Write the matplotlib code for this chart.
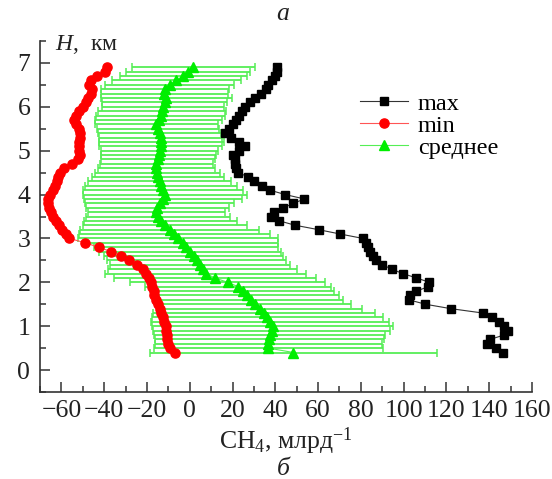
import matplotlib
matplotlib.use("Agg")
import matplotlib.pyplot as plt
from matplotlib.ticker import MultipleLocator

plt.rcParams["font.family"] = ["Liberation Serif", "DejaVu Serif"]
plt.rcParams["mathtext.fontset"] = "custom"
plt.rcParams["mathtext.rm"] = "Liberation Serif"
plt.rcParams["mathtext.it"] = "Liberation Serif:italic"

# altitude levels, km
heights = [
    0.4, 0.5, 0.6, 0.7, 0.8, 0.9, 1.0, 1.1, 1.2, 1.3, 1.4, 1.5, 1.6, 1.7,
    1.8, 1.9, 2.0, 2.1, 2.2, 2.3, 2.4, 2.5, 2.6, 2.7, 2.8, 2.9, 3.0, 3.1,
    3.2, 3.3, 3.4, 3.5, 3.6, 3.7, 3.8, 3.9, 4.0, 4.1, 4.2, 4.3, 4.4, 4.5,
    4.6, 4.7, 4.8, 4.9, 5.0, 5.1, 5.2, 5.3, 5.4, 5.5, 5.6, 5.7, 5.8, 5.9,
    6.0, 6.1, 6.2, 6.3, 6.4, 6.5, 6.6, 6.7, 6.8, 6.9,
]

ch4_max = [
    146.5, 143.0, 139.0, 140.5, 147.0, 148.8, 147.0, 144.5, 141.5, 137.0,
    122.0, 110.2, 102.5, 103.0, 106.0, 111.5, 112.0, 106.0, 99.5, 94.5,
    90.0, 87.0, 85.5, 84.3, 83.3, 82.2, 81.0, 70.4, 60.2, 49.3,
    41.9, 37.8, 39.4, 43.8, 48.5, 53.6, 44.6, 37.5, 33.6, 30.0,
    27.4, 22.7, 21.5, 21.1, 21.0, 20.3, 23.1, 26.0, 23.1, 19.1,
    16.4, 18.5, 20.0, 21.5, 23.0, 24.5, 26.0, 28.0, 30.5, 33.5,
    35.5, 36.8, 38.3, 39.8, 41.0, 40.6,
]

ch4_min = [
    -7.1, -9.1, -10.2, -10.7, -10.7, -11.0, -11.3, -11.8, -12.6, -13.3,
    -14.1, -14.9, -15.7, -16.5, -16.9, -17.6, -18.0, -19.1, -20.4, -21.9,
    -24.7, -28.5, -32.1, -36.8, -42.6, -48.8, -56.3, -58.0, -59.8, -61.2,
    -62.6, -63.8, -64.8, -65.6, -66.1, -66.4, -65.5, -64.0, -62.8, -62.0,
    -61.4, -60.5, -58.9, -55.2, -52.4, -51.1, -51.6, -52.0, -51.6, -51.1,
    -51.1, -51.6, -53.1, -53.9, -53.1, -51.6, -50.0, -48.4, -47.7, -46.1,
    -45.8, -46.9, -46.1, -43.3, -39.8, -38.6,
]

ch4_mean = [
    48.5, 36.8, 36.7, 37.2, 37.5, 38.3, 38.8, 37.5, 36.3, 34.7,
    32.8, 30.5, 28.5, 26.6, 24.7, 22.7, 17.7, 11.7, 7.5, 6.0,
    4.7, 3.2, 1.8, 0.1, -1.6, -3.3, -5.5, -7.3, -9.4, -11.7,
    -13.6, -14.8, -15.6, -15.1, -14.1, -12.5, -11.7, -12.5, -13.3, -14.1,
    -14.8, -15.1, -15.6, -15.6, -14.8, -14.5, -14.1, -13.6, -13.3, -13.6,
    -14.1, -14.8, -15.6, -14.5, -13.6, -13.0, -12.5, -11.7, -10.9, -12.0,
    -11.7, -9.4, -6.2, -3.1, -0.8, 1.6,
]

ch4_sd = [
    67.0, 53.4, 53.0, 53.5, 54.0, 55.5, 56.3, 55.7, 54.0, 52.1,
    47.7, 44.8, 43.0, 43.0, 42.8, 43.4, 45.4, 47.3, 46.9, 44.0,
    42.2, 41.8, 41.8, 42.6, 43.0, 44.5, 46.9, 44.7, 41.7, 38.3,
    35.9, 33.6, 32.1, 33.3, 34.8, 37.0, 38.3, 37.5, 35.6, 33.6,
    31.0, 29.4, 27.4, 26.5, 26.5, 27.0, 27.5, 28.6, 29.2, 28.9,
    28.9, 28.5, 28.9, 29.7, 30.2, 30.0, 28.4, 29.2, 30.5, 29.7,
    30.0, 30.0, 30.0, 29.7, 29.0, 28.8,
]

FS = 18.5
TEXT_COLOR = "#222222"

fig = plt.figure(figsize=(5.52, 4.79), dpi=100)
ax = fig.add_axes([40 / 552, 1 - 392 / 479, 492 / 552, 351 / 479])

# error bars of the mean profile
_, caps, bars = ax.errorbar(
    ch4_mean, heights, xerr=ch4_sd, fmt="none",
    ecolor="#55ee55", elinewidth=1.3, capsize=2.8, capthick=1.1, zorder=1,
)
for cap in caps:
    cap.set_color("#11dd11")

ax.plot(ch4_max, heights, color="#333333", lw=0.8, marker="s", ms=6,
        mfc="black", mec="black", label="max", zorder=3)
ax.plot(ch4_min, heights, color="#ff5555", lw=0.8, marker="o", ms=6.6,
        mfc="#ff0000", mec="#ff0000", label="min", zorder=3)
ax.plot(ch4_mean, heights, color="#55ee55", lw=0.8, marker="^", ms=7.5,
        mfc="#00ee00", mec="#00ee00", label="среднее", zorder=3)

ax.set_xlim(-70, 160)
ax.set_ylim(-0.5, 7.5)
ax.xaxis.set_major_locator(MultipleLocator(20))
ax.xaxis.set_minor_locator(MultipleLocator(10))
ax.yaxis.set_major_locator(MultipleLocator(1))
ax.yaxis.set_minor_locator(MultipleLocator(0.5))

for side in ["top", "right"]:
    ax.spines[side].set_visible(False)
for side in ["left", "bottom"]:
    ax.spines[side].set_color("#333333")
    ax.spines[side].set_linewidth(1.2)

ax.tick_params(which="both", direction="in", colors="#333333", width=1.1,
               labelsize=FS, labelcolor=TEXT_COLOR)
ax.tick_params(which="major", length=7)
ax.tick_params(which="minor", length=4)
ax.tick_params(axis="x", which="major", pad=6)
ax.tick_params(axis="y", which="major", pad=7)

ax.set_xlabel("CH$_4$, млрд$^{-1}$", fontsize=FS, labelpad=2, color=TEXT_COLOR)
ax.text(0.03, 0.99, "$H$,  км", transform=ax.transAxes, fontsize=FS - 1.5,
        va="center", ha="left", color=TEXT_COLOR)

ax.legend(loc="upper left", bbox_to_anchor=(0.63, 0.88), frameon=False,
          fontsize=FS - 1, handlelength=2.0, handletextpad=0.4,
          labelspacing=0.0, borderaxespad=0)

fig.text(283 / 552, 1 - 14 / 479, "а", fontsize=FS, style="italic",
         ha="center", va="center", color=TEXT_COLOR)
fig.text(283 / 552, 1 - 469 / 479, "б", fontsize=FS, style="italic",
         ha="center", va="center", color=TEXT_COLOR)

fig.savefig("out.png", dpi=100)
